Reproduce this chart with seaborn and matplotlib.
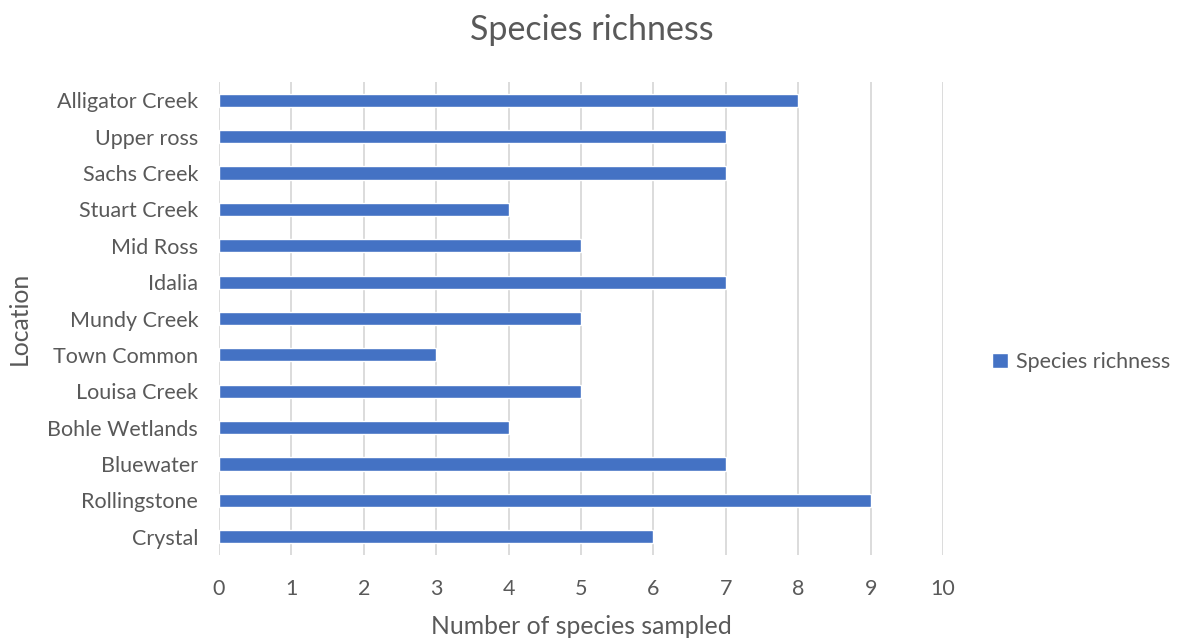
import matplotlib
matplotlib.use("Agg")
import matplotlib.pyplot as plt
import seaborn as sns
import pandas as pd

locations = ["Alligator Creek", "Upper ross", "Sachs Creek", "Stuart Creek", "Mid Ross",
             "Idalia", "Mundy Creek", "Town Common", "Louisa Creek", "Bohle Wetlands",
             "Bluewater", "Rollingstone", "Crystal"]
richness = [8, 7, 7, 4, 5, 7, 5, 3, 5, 4, 7, 9, 6]
x_ticks = list(range(0, 11))

sns.set_theme(style="white")
plt.rcParams["font.family"] = ["Lato", "DejaVu Sans"]

text_color = "#595959"
bar_color = "#4472C4"

df = pd.DataFrame({"Location": locations, "Species richness": richness})

fig = plt.figure(figsize=(11.84, 6.39), dpi=100)
ax = fig.add_axes([0.185, 0.1315, 0.6115, 0.740])

sns.barplot(data=df, y="Location", x="Species richness", orient="h",
            color=bar_color, width=0.36, saturation=1, ax=ax,
            label="Species richness", zorder=3)

ax.set_xlim(0, 10)
ax.set_xticks(x_ticks)
ax.set_xticklabels([str(t) for t in x_ticks], color=text_color, fontsize=15.5)
ax.tick_params(axis="y", colors=text_color, labelsize=15.5, length=0, pad=15)
ax.tick_params(axis="x", length=0, pad=17)
ax.xaxis.grid(True, color="#D9D9D9", linewidth=1.3, zorder=0)
ax.yaxis.grid(False)
for side in ["top", "right", "left", "bottom"]:
    ax.spines[side].set_visible(False)
ax.set_ylim(12.5, -0.5)

ax.set_xlabel("Number of species sampled", color=text_color, fontsize=17.8, labelpad=12)
ax.set_ylabel("Location", color=text_color, fontsize=17.8, labelpad=12)
fig.suptitle("Species richness", color=text_color, fontsize=24.5, y=0.978)

leg = ax.legend(loc="center left", bbox_to_anchor=(992 / 1184, 1 - 362 / 639),
                bbox_transform=fig.transFigure, frameon=False, borderpad=0,
                borderaxespad=0, fontsize=15.5, handlelength=0.75,
                handleheight=0.75, handletextpad=0.35)
for t in leg.get_texts():
    t.set_color(text_color)

fig.savefig("out.png", dpi=100, facecolor="white")
